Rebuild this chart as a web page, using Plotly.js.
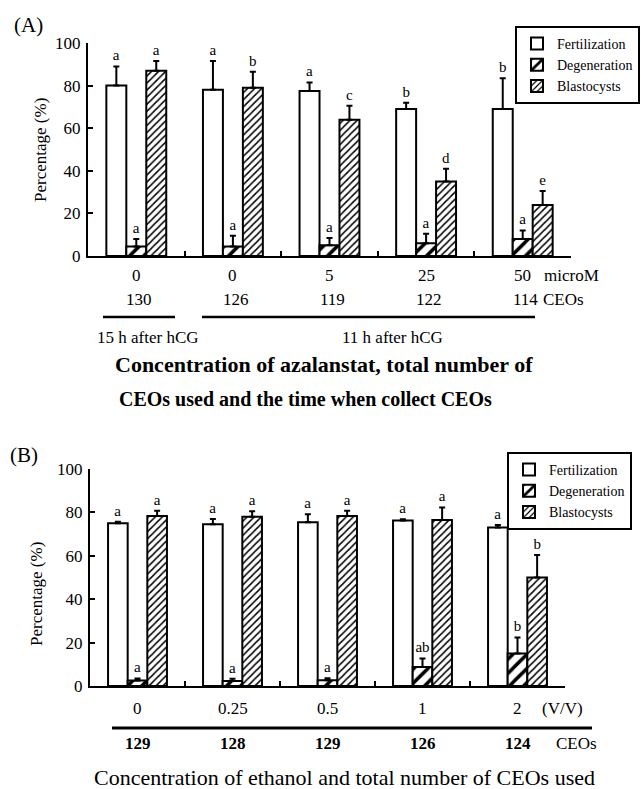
<!DOCTYPE html>
<html><head><meta charset="utf-8">
<script src="https://cdn.plot.ly/plotly-3.0.1.min.js"></script>
<style>html,body{margin:0;padding:0;background:#fff}#chart{width:641px;height:789px}</style>
</head><body><div id="chart"></div>
<script>
// ---------- Panel A data ----------
const categoriesA = ['Aza 0 (15 h)', 'Aza 0 (11 h)', 'Aza 5', 'Aza 25', 'Aza 50'];
const concLabelsA = ['0', '0', '5', '25', '50'];
const ceosA = [130, 126, 119, 122, 114];
const fertA = [80, 78, 77.5, 69, 69];
const fertErrA = [9, 13.5, 4, 3, 14.5];
const fertLetA = ['a', 'a', 'a', 'b', 'b'];
const degA = [4.5, 4.5, 5, 6, 8];
const degErrA = [3.5, 5, 3.5, 4.5, 4];
const degLetA = ['a', 'a', 'a', 'a', 'a'];
const blastA = [87, 79, 64, 35, 24];
const blastErrA = [4.5, 7.5, 6.5, 6, 6.5];
const blastLetA = ['a', 'b', 'c', 'd', 'e'];

// ---------- Panel B data ----------
const categoriesB = ['EtOH 0', 'EtOH 0.25', 'EtOH 0.5', 'EtOH 1', 'EtOH 2'];
const concLabelsB = ['0', '0.25', '0.5', '1', '2'];
const ceosB = [129, 128, 129, 126, 124];
const fertB = [75, 74.5, 75.5, 76.3, 73];
const fertErrB = [0.7, 2.5, 3.6, 0.6, 1.2];
const fertLetB = ['a', 'a', 'a', 'a', 'a'];
const degB = [2.5, 2.3, 2.6, 8.7, 15];
const degErrB = [1, 1, 1, 4, 7.4];
const degLetB = ['a', 'a', 'a', 'ab', 'b'];
const blastB = [78.3, 78, 78.3, 76.5, 50];
const blastErrB = [2.5, 2.5, 2.5, 5.8, 10.4];
const blastLetB = ['a', 'a', 'a', 'a', 'b'];

const seriesNames = ['Fertilization', 'Degeneration', 'Blastocysts'];
const yTicks = [0, 20, 40, 60, 80, 100];

// ---------- helpers ----------
const W = 641, H = 789;
const px = x => x / W;
const py = y => 1 - y / H;
const SERIF = 'Liberation Serif, Times New Roman, serif';

const patterns = [
  null,
  {shape: '/', size: 10, solidity: 0.35, fgcolor: 'black', bgcolor: 'white', fillmode: 'replace'},
  {shape: '/', size: 5, solidity: 0.3, fgcolor: 'black', bgcolor: 'white', fillmode: 'replace'}
];

function panelTraces(cats, vals, errs, lets, xa, ya, legendId) {
  const traces = [];
  vals.forEach((v, k) => {
    const marker = {color: 'white', line: {color: 'black', width: 2}};
    if (patterns[k]) marker.pattern = patterns[k];
    traces.push({
      type: 'bar', x: cats, y: v, name: seriesNames[k],
      xaxis: xa, yaxis: ya, offsetgroup: 'g' + k, legend: legendId,
      marker: marker,
      error_y: {type: 'data', symmetric: false, array: errs[k], arrayminus: v.map(() => 0),
                color: 'black', thickness: 2, width: 3},
      hoverinfo: 'skip'
    });
  });
  vals.forEach((v, k) => {
    traces.push({
      type: 'bar', x: cats, y: v.map((val, i) => val + errs[k][i]),
      xaxis: xa, yaxis: ya, offsetgroup: 'g' + k, showlegend: false,
      marker: {color: 'rgba(0,0,0,0)', line: {width: 0}},
      text: lets[k], textposition: 'outside', cliponaxis: false, constraintext: 'none',
      textfont: {family: SERIF, size: 15, color: 'black'},
      hoverinfo: 'skip'
    });
  });
  return traces;
}

const data = [
  ...panelTraces(categoriesA, [fertA, degA, blastA], [fertErrA, degErrA, blastErrA],
                 [fertLetA, degLetA, blastLetA], 'x', 'y', 'legend'),
  ...panelTraces(categoriesB, [fertB, degB, blastB], [fertErrB, degErrB, blastErrB],
                 [fertLetB, degLetB, blastLetB], 'x2', 'y2', 'legend2')
];

function xAxis(domain, anchor, cats) {
  return {domain: domain, anchor: anchor, type: 'category', categoryarray: cats, categoryorder: 'array',
          tickson: 'boundaries', ticks: 'inside', ticklen: 5, tickwidth: 2, tickcolor: 'black',
          showticklabels: false, showline: true, linecolor: 'black', linewidth: 2,
          showgrid: false, zeroline: false, fixedrange: true};
}
function yAxis(domain, anchor) {
  return {domain: domain, anchor: anchor, range: [0, 100], tickmode: 'array', tickvals: yTicks,
          ticks: 'inside', ticklen: 5, tickwidth: 2, tickcolor: 'black',
          showline: true, linecolor: 'black', linewidth: 2, showgrid: false, zeroline: false,
          tickfont: {family: SERIF, size: 17, color: 'black'}, ticklabelstandoff: 2, fixedrange: true};
}

const legendStyle = {bordercolor: 'black', borderwidth: 2, bgcolor: 'white',
  font: {family: SERIF, size: 14, color: 'black'}, tracegroupgap: 0, itemwidth: 30,
  xanchor: 'right', yanchor: 'top'};

const ann = [];
function txt(x, y, text, size, opts) {
  ann.push(Object.assign({xref: 'paper', yref: 'paper', x: x, y: y, text: text, showarrow: false,
    font: {family: SERIF, size: size, color: 'black'}, xanchor: 'center', yanchor: 'middle'}, opts || {}));
}
const bold = size => ({font: {family: SERIF, size: size, color: 'black', weight: 'bold'}});
// panel letters
txt(px(28), py(25), '(A)', 21);
txt(px(24), py(455), '(B)', 21);
// y titles
txt(px(41), py(150), 'Percentage (%)', 17, {textangle: -90});
txt(px(36), py(594), 'Percentage (%)', 17, {textangle: -90});
// panel A category rows
categoriesA.forEach((c, i) => {
  txt(c, py(275), concLabelsA[i], 17, {xref: 'x'});
  txt(c, py(300), String(ceosA[i]), 17, {xref: 'x', xshift: 3});
});
txt(px(571), py(275), 'microM', 17);
txt(px(563), py(300), 'CEOs', 17);
txt(px(148), py(338), '15 h after hCG', 17);
txt(px(392), py(338), '11 h after hCG', 17);
txt(px(113), py(365), 'Concentration of azalanstat, total number of', 22, Object.assign({xanchor: 'left'}, bold(22)));
txt(px(117), py(399), 'CEOs used and the time when collect CEOs', 20, Object.assign({xanchor: 'left'}, bold(20)));
// panel B category rows
categoriesB.forEach((c, i) => {
  txt(c, py(708), concLabelsB[i], 17, {xref: 'x2'});
  txt(c, py(743), String(ceosB[i]), 17, Object.assign({xref: 'x2'}, bold(17)));
});
txt(px(562), py(708), '(V/V)', 17);
txt(px(576), py(743), 'CEOs', 17);
txt(px(344), py(777), 'Concentration of ethanol and total number of CEOs used', 22);

const shapes = [
  {type: 'line', xref: 'paper', yref: 'paper', x0: px(103), x1: px(175), y0: py(317), y1: py(317), line: {color: 'black', width: 2.5}},
  {type: 'line', xref: 'paper', yref: 'paper', x0: px(202), x1: px(535), y0: py(317), y1: py(317), line: {color: 'black', width: 2.5}},
  {type: 'line', xref: 'paper', yref: 'paper', x0: px(112), x1: px(592), y0: py(728), y1: py(728), line: {color: 'black', width: 3}}
];

const layout = {
  width: W, height: H, margin: {l: 0, r: 0, t: 0, b: 0},
  paper_bgcolor: 'white', plot_bgcolor: 'white',
  barmode: 'group', bargap: 0.38, bargroupgap: 0,
  font: {family: SERIF, color: 'black'},
  xaxis: xAxis([px(88), px(571)], 'y', categoriesA),
  yaxis: yAxis([py(256), py(43)], 'x'),
  xaxis2: xAxis([px(90), px(565)], 'y2', categoriesB),
  yaxis2: yAxis([py(686), py(469)], 'x2'),
  legend: Object.assign({x: px(640), y: py(26)}, legendStyle),
  legend2: Object.assign({x: px(632), y: py(452)}, legendStyle),
  annotations: ann, shapes: shapes, showlegend: true
};

Plotly.newPlot('chart', data, layout, {displayModeBar: false, staticPlot: true});
</script></body></html>
